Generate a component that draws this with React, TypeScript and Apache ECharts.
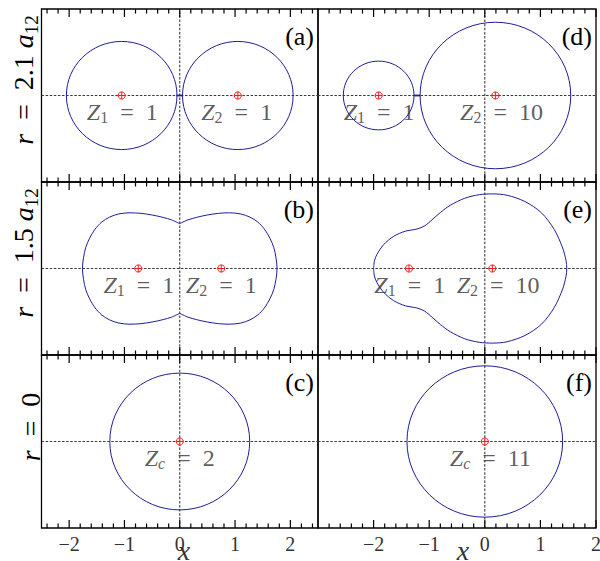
import { useEffect, useRef } from "react";
import * as echarts from "echarts";

// ---------- axis ranges and ticks ----------
const leftRange = [-2.5, 2.5];
const rightRange = [-3, 2];
const yRange = [-1.6, 1.6];
const majorTicks = [-2, -1, 0, 1, 2];
const leftMinorTicks = [-2.4, -2.2, -1.8, -1.6, -1.4, -1.2, -0.8, -0.6, -0.4, -0.2, 0.2, 0.4, 0.6, 0.8, 1.2, 1.4, 1.6, 1.8, 2.2, 2.4];
const rightMinorTicks = [-2.8, -2.6, -2.4, -2.2, -1.8, -1.6, -1.4, -1.2, -0.8, -0.6, -0.4, -0.2, 0.2, 0.4, 0.6, 0.8, 1.2, 1.4, 1.6, 1.8];
const rowLabels = ["{i|r}{n|\u2002=\u20022.1 }{i|a}{s|12}", "{i|r}{n|\u2002=\u20021.5 }{i|a}{s|12}", "{i|r}{n|\u2002=\u20020}"];
const panelTags = ["(a)", "(b)", "(c)", "(d)", "(e)", "(f)"];

// ---------- (a) r = 2.1 a12, Z1 = Z2 = 1 ----------
const nucleiA = [[-1.05, 0], [1.05, 0]];
const circlesA = [[-1.05, 0, 1.0], [1.05, 0, 1.0]]; // cx, cy, radius
const bridgeA = [[-0.06, 0], [0.05, 0]];
const labelsA = [
  { x: -1.04, sub: "1", val: "1" },
  { x: 1.03, sub: "2", val: "1" },
];

// ---------- (b) r = 1.5 a12, Z1 = Z2 = 1 ----------
const nucleiB = [[-0.75, 0], [0.75, 0]];
// upper half of the left lobe, from the cusp outward
const lobeBUpper = [
  [0, 0.83], [-0.15, 0.9], [-0.3, 0.945], [-0.5, 0.99], [-0.7, 1.02], [-0.9, 1.03],
  [-1.1, 1.01], [-1.27, 0.95], [-1.41, 0.86], [-1.53, 0.73], [-1.63, 0.56],
  [-1.7, 0.39], [-1.74, 0.2], [-1.76, 0],
];
const labelsB = [
  { x: -0.74, sub: "1", val: "1" },
  { x: 0.75, sub: "2", val: "1" },
];

// ---------- (c) r = 0, Zc = 2 ----------
const nucleiC = [[0, 0]];
const circlesC = [[0, 0, 1.265]];
const labelsC = [{ x: 0, sub: "c", val: "2" }];

// ---------- (d) r = 2.1 a12, Z1 = 1, Z2 = 10 ----------
const nucleiD = [[-1.909, 0], [0.191, 0]];
const circlesD = [[-1.909, 0, 0.636], [0.191, 0, 1.355]];
const bridgeD = [[-1.273, 0], [-1.164, 0]];
const labelsD = [
  { x: -1.9, sub: "1", val: "1" },
  { x: 0.3, sub: "2", val: "10" },
];

// ---------- (e) r = 1.5 a12, Z1 = 1, Z2 = 10 ----------
const nucleiE = [[-1.364, 0], [0.136, 0]];
const contourEUpper = [
  [-2.0, 0], [-1.985, 0.14], [-1.94, 0.26], [-1.82, 0.44], [-1.64, 0.595], [-1.43, 0.69],
  [-1.22, 0.73], [-1.08, 0.79], [-0.95, 0.9], [-0.8, 1.035], [-0.62, 1.17], [-0.36, 1.3],
  [-0.1, 1.365], [0.14, 1.38], [0.4, 1.355], [0.72, 1.24], [1.02, 1.03], [1.25, 0.72],
  [1.4, 0.38], [1.46, 0.15], [1.475, 0],
];
const labelsE = [
  { x: -1.35, sub: "1", val: "1" },
  { x: 0.24, sub: "2", val: "10" },
];

// ---------- (f) r = 0, Zc = 11 ----------
const nucleiF = [[0, 0]];
const circlesF = [[0, 0, 1.4]];
const labelsF = [{ x: 0.1, sub: "c", val: "11" }];

// ---------- styles ----------
const FONT = "Liberation Serif";
const CURVE = "#1e1e96";
const NUC = "#ff1a1a";
const GUIDE = "#3a3a3a";
const LABEL = "#333333";

const mirrorClose = (upper: number[][]) =>
  upper.concat(upper.slice(0, -1).reverse().map(([x, y]) => [x, -y]));

const lobeBLeft = mirrorClose(lobeBUpper);
const lobeBRight = lobeBLeft.map(([x, y]) => [-x, y]);
const contourE = mirrorClose(contourEUpper);

const zRich = {
  z: { fontFamily: FONT, fontStyle: "italic", fontSize: 24, lineHeight: 24, verticalAlign: "top", color: LABEL },
  n: { fontFamily: FONT, fontSize: 24, lineHeight: 24, verticalAlign: "top", color: LABEL },
  s: { fontFamily: FONT, fontSize: 16, lineHeight: 36, verticalAlign: "middle", color: LABEL },
  si: { fontFamily: FONT, fontStyle: "italic", fontSize: 16, lineHeight: 36, verticalAlign: "middle", color: LABEL },
};

const yRich = {
  i: { fontFamily: FONT, fontStyle: "italic", fontSize: 28, lineHeight: 30, verticalAlign: "top", color: LABEL },
  n: { fontFamily: FONT, fontSize: 28, lineHeight: 30, verticalAlign: "top", color: LABEL },
  s: { fontFamily: FONT, fontSize: 19, lineHeight: 44, verticalAlign: "middle", color: LABEL },
};

type Panel = {
  row: number;
  col: number;
  circles?: number[][];
  contours?: number[][][];
  bridge?: number[][];
  nuclei: number[][];
  labels: { x: number; sub: string; val: string }[];
};

const panels: Panel[] = [
  { row: 0, col: 0, circles: circlesA, bridge: bridgeA, nuclei: nucleiA, labels: labelsA },
  { row: 1, col: 0, contours: [lobeBLeft, lobeBRight], nuclei: nucleiB, labels: labelsB },
  { row: 2, col: 0, circles: circlesC, nuclei: nucleiC, labels: labelsC },
  { row: 0, col: 1, circles: circlesD, bridge: bridgeD, nuclei: nucleiD, labels: labelsD },
  { row: 1, col: 1, contours: [contourE], nuclei: nucleiE, labels: labelsE },
  { row: 2, col: 1, circles: circlesF, nuclei: nucleiF, labels: labelsF },
];

// layout (pixels)
const colLeft = [41.5, 318];
const colWidth = [276.5, 278];
const rowTop = [9, 182, 355];
const rowHeight = 173;
const MAJOR_LEN = 8;
const MINOR_LEN = 4.5;

const fmt = (v: number) => (v < 0 ? "\u2212" + Math.abs(v) : String(v));

function circleItem(_p: any, api: any) {
  const c = api.coord([api.value(0), api.value(1)]);
  const s = api.size([api.value(2), api.value(2)]);
  return {
    type: "ellipse",
    shape: { cx: c[0], cy: c[1], rx: s[0], ry: s[1] },
    style: { fill: "none", stroke: CURVE, lineWidth: 1 },
  };
}

function nucleusItem(_p: any, api: any) {
  const c = api.coord([api.value(0), api.value(1)]);
  const r = 3.6;
  return {
    type: "group",
    children: [
      { type: "circle", shape: { cx: c[0], cy: c[1], r }, style: { fill: "rgba(255,255,255,0.6)", stroke: NUC, lineWidth: 1 } },
      { type: "line", shape: { x1: c[0] - r, y1: c[1], x2: c[0] + r, y2: c[1] }, style: { stroke: NUC, lineWidth: 1 } },
      { type: "line", shape: { x1: c[0], y1: c[1] - r, x2: c[0], y2: c[1] + r }, style: { stroke: NUC, lineWidth: 1 } },
    ],
  };
}

function buildOption() {
  const grid: any[] = [];
  const xAxis: any[] = [];
  const yAxis: any[] = [];
  const series: any[] = [];
  const graphic: any[] = [];
  const unitsPerPx = (yRange[1] - yRange[0]) / rowHeight;

  panels.forEach((p, i) => {
    const [min, max] = p.col === 0 ? leftRange : rightRange;
    const minor = p.col === 0 ? leftMinorTicks : rightMinorTicks;
    grid.push({
      left: colLeft[p.col],
      top: rowTop[p.row],
      width: colWidth[p.col],
      height: rowHeight,
      containLabel: false,
      outerBoundsMode: "none",
      show: true,
      borderColor: "#000",
      borderWidth: 1.3,
      backgroundColor: "transparent",
    });
    const showLabels = p.row === 2;
    xAxis.push({
      gridIndex: i,
      type: "value",
      min,
      max,
      position: "bottom",
      axisLine: { show: false, onZero: false },
      splitLine: { show: false },
      axisTick: { show: false },
      axisLabel: {
        show: showLabels,
        customValues: majorTicks,
        formatter: fmt,
        margin: 6,
        fontFamily: FONT,
        fontSize: 20,
        color: LABEL,
      },
    });
    yAxis.push({
      gridIndex: i,
      type: "value",
      min: yRange[0],
      max: yRange[1],
      axisLine: { show: false, onZero: false },
      axisTick: { show: false },
      axisLabel: { show: false },
      splitLine: { show: false },
    });

    const ax = { xAxisIndex: i, yAxisIndex: i };

    // inward ticks on the top and bottom frame: one short line series per tick
    const addTicks = (vals: number[], lenPx: number) => {
      const d = lenPx * unitsPerPx;
      vals.forEach((v) => {
        series.push({
          type: "line", ...ax, silent: true, symbol: "none",
          data: [[v, yRange[0]], [v, yRange[0] + d]],
          lineStyle: { color: "#000", width: 1.2, type: "solid" }, z: 6,
        });
        series.push({
          type: "line", ...ax, silent: true, symbol: "none",
          data: [[v, yRange[1]], [v, yRange[1] - d]],
          lineStyle: { color: "#000", width: 1.2, type: "solid" }, z: 6,
        });
      });
    };
    addTicks(majorTicks, MAJOR_LEN);
    addTicks(minor, MINOR_LEN);

    const guideStyle = { color: GUIDE, width: 1.1, type: [2.5, 1.6] };
    series.push({
      type: "line", ...ax, silent: true, symbol: "none",
      data: [[min, 0], [max, 0]], lineStyle: guideStyle, z: 1,
    });
    series.push({
      type: "line", ...ax, silent: true, symbol: "none",
      data: [[0, yRange[0]], [0, yRange[1]]], lineStyle: guideStyle, z: 1,
    });
    if (p.circles) {
      series.push({
        type: "custom", ...ax, silent: true, renderItem: circleItem,
        encode: { x: 0, y: 1 }, data: p.circles, z: 2,
      });
    }
    if (p.contours) {
      p.contours.forEach((c) => {
        series.push({
          type: "line", ...ax, silent: true, symbol: "none", smooth: 0.3,
          data: c, lineStyle: { color: CURVE, width: 1 }, z: 2,
        });
      });
    }
    if (p.bridge) {
      series.push({
        type: "line", ...ax, silent: true, symbol: "none",
        data: p.bridge, lineStyle: { color: CURVE, width: 1.8 }, z: 2,
      });
    }
    series.push({
      type: "custom", ...ax, silent: true, renderItem: nucleusItem,
      encode: { x: 0, y: 1 }, data: p.nuclei, z: 4,
    });
    series.push({
      type: "scatter", ...ax, silent: true, symbolSize: 1,
      itemStyle: { color: "transparent" }, z: 5,
      data: p.labels.map((l) => ({
        value: [l.x, 0],
        label: {
          show: true,
          position: "inside",
          offset: [0, 22],
          formatter: `{z|Z}{${l.sub === "c" ? "si" : "s"}|${l.sub}}{n|\u2002=\u2002${l.val}}`,
          rich: zRich,
        },
      })),
    });

    graphic.push({
      type: "text",
      x: colLeft[p.col] + colWidth[p.col] - 4,
      y: rowTop[p.row] + 27,
      silent: true,
      style: {
        text: panelTags[i],
        fontFamily: FONT,
        fontSize: 26,
        fill: "#000",
        align: "right",
        verticalAlign: "middle",
      },
    });
  });

  const yLabelCenters = [80, 253, 427];
  rowLabels.forEach((t, r) => {
    graphic.push({
      type: "text",
      x: 31,
      y: yLabelCenters[r],
      rotation: Math.PI / 2,
      silent: true,
      style: { text: t, rich: yRich, align: "center", verticalAlign: "middle" },
    });
  });
  [184, 463].forEach((x) => {
    graphic.push({
      type: "text",
      x,
      y: 550,
      silent: true,
      style: {
        text: "x",
        fontFamily: FONT,
        fontStyle: "italic",
        fontSize: 28,
        fill: LABEL,
        align: "center",
        verticalAlign: "middle",
      },
    });
  });

  return { animation: false, grid, xAxis, yAxis, series, graphic };
}

export default function App() {
  const ref = useRef<HTMLDivElement>(null);
  useEffect(() => {
    if (!ref.current) return;
    const chart = echarts.init(ref.current, undefined, { renderer: "svg" });
    chart.setOption(buildOption() as any);
    return () => chart.dispose();
  }, []);
  return (
    <div
      ref={ref}
      style={{ width: 600, height: 561, position: "absolute", left: 0, top: 0, background: "#fff" }}
    />
  );
}
